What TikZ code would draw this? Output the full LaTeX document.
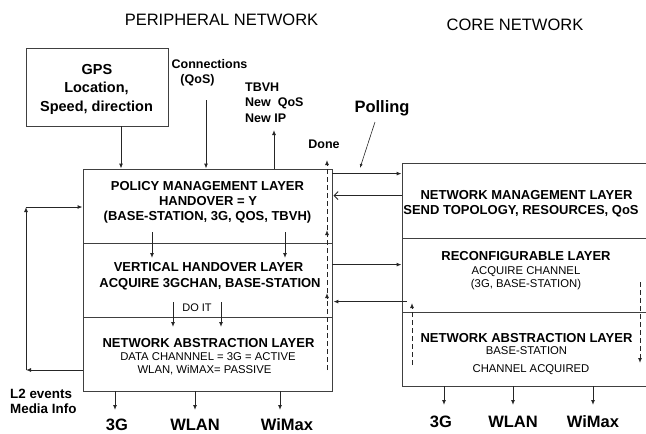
\documentclass[tikz,border=0pt]{standalone}
\usepackage{fontspec}
\setmainfont{Liberation Sans}
\usetikzlibrary{arrows.meta, positioning}

\begin{document}
\begin{tikzpicture}[
  x=1pt, y=-1pt,
  layer/.style={
    draw=black!75,
    line width=0.8pt,
    minimum width=249pt,
    minimum height=74pt,
    inner sep=0pt
  },
  corelayer/.style={
    layer,
    minimum width=262pt
  },
  title/.style={font=\fontsize{16.5}{19}\selectfont, anchor=base, inner sep=0pt},
  head/.style={font=\bfseries\fontsize{13}{15}\selectfont, anchor=base, inner sep=0pt},
  sub/.style={font=\fontsize{11.3}{13}\selectfont, anchor=base, inner sep=0pt},
  tag/.style={font=\bfseries\fontsize{12.5}{14}\selectfont, anchor=base, inner sep=0pt},
  big/.style={font=\bfseries\fontsize{16.5}{19}\selectfont, anchor=base, inner sep=0pt},
  arr/.style={
    draw=black!85,
    line width=1pt,
    -{Latex[length=5pt,width=4pt]}
  },
  barb/.style={
    draw=black!85,
    line width=1pt,
    -{Straight Barb[length=4pt,width=8pt]}
  },
  dasharr/.style={arr, dash pattern=on 5pt off 3pt}
]
\clip (0,0) rectangle (646,434);

% Titles
\node[title] (tperiph) at (221.5,25) {PERIPHERAL NETWORK};
\node[title] (tcore) at (515,30) {CORE NETWORK};

% -------------------------------------------------------------------
% Peripheral network
% -------------------------------------------------------------------
\node[draw=black!75, line width=0.8pt, minimum width=142pt, minimum height=78pt,
  inner sep=0pt] (gps) at (97,87) {};
\node[big, font=\bfseries\fontsize{14.5}{17}\selectfont] (gps1) at (97,74) {GPS};
\node[big, font=\bfseries\fontsize{14.5}{17}\selectfont] (gps2) at (96.5,92) {Location,};
\node[big, font=\bfseries\fontsize{14.5}{17}\selectfont] (gps3) at (96.5,111) {Speed, direction};

\node[tag] (conn1) at (209.5,68) {Connections};
\node[tag] (conn2) at (197.5,83) {(QoS)};

\node[tag, anchor=base west] (tbvh1) at (245,91) {TBVH};
\node[tag, anchor=base west] (tbvh2) at (245,106) {New\ \ QoS};
\node[tag, anchor=base west] (tbvh3) at (245,122) {New IP};

\node[tag] (done) at (324,148) {Done};
\node[big] (polling) at (382,112) {Polling};

\node[layer] (policy) at (207.5,206) {};
\node[layer] (vertical) at (207.5,280) {};
\node[layer] (lnal) at (207.5,354) {};

\node[head] (pol1) at (207.5,190) {POLICY MANAGEMENT LAYER};
\node[head] (pol2) at (208,205) {HANDOVER = Y};
\node[head] (pol3) at (207.5,220) {(BASE-STATION, 3G, QOS, TBVH)};

\node[head] (ver1) at (208.5,271) {VERTICAL HANDOVER LAYER};
\node[head] (ver2) at (210,287) {ACQUIRE 3GCHAN, BASE-STATION};
\node[sub, font=\fontsize{11}{13}\selectfont] (doit) at (197,311) {DO IT};

\node[head] (lnal1) at (208.5,347) {NETWORK ABSTRACTION LAYER};
\node[sub] (lnal2) at (208,360) {DATA CHANNNEL = 3G = ACTIVE};
\node[sub] (lnal3) at (204.5,373) {WLAN, WiMAX= PASSIVE};

\node[tag, font=\bfseries\fontsize{13.4}{15}\selectfont, anchor=base west] (l2a) at (10,398) {L2 events};
\node[tag, font=\bfseries\fontsize{13.4}{15}\selectfont, anchor=base west] (l2b) at (10,413) {Media Info};

\node[big] (l3g) at (117,430) {3G};
\node[big] (lwlan) at (195,430) {WLAN};
\node[big] (lwimax) at (287,430) {WiMax};

% -------------------------------------------------------------------
% Core network
% -------------------------------------------------------------------
\node[corelayer, minimum height=75pt] (nml) at (533,200.5) {};
\node[corelayer] (reconf) at (533,275) {};
\node[corelayer] (rnal) at (533,349) {};

\node[head] (nml1) at (526.5,199) {NETWORK MANAGEMENT LAYER};
\node[head] (nml2) at (521,214) {SEND TOPOLOGY, RESOURCES, QoS};

\node[head] (rec1) at (526,260) {RECONFIGURABLE LAYER};
\node[sub] (rec2) at (526,274) {ACQUIRE CHANNEL};
\node[sub] (rec3) at (526,287) {(3G, BASE-STATION)};

\node[head] (rnal1) at (526.5,342) {NETWORK ABSTRACTION LAYER};
\node[sub] (rnal2) at (526.5,354) {BASE-STATION};
\node[sub] (rnal3) at (531,372) {CHANNEL ACQUIRED};

\node[big] (r3g) at (441,427) {3G};
\node[big] (rwlan) at (513,427) {WLAN};
\node[big] (rwimax) at (593,427) {WiMax};

% -------------------------------------------------------------------
% Arrows into and out of the policy layer
% -------------------------------------------------------------------
\coordinate (connin) at (206,100);
\coordinate (tbvhout) at (274,130);
\draw[arr] ([xshift=24pt]gps.south) -- ([xshift=24pt]gps.south |- policy.north);
\draw[arr] (connin) -- (connin |- policy.north);
\draw[arr] (tbvhout |- policy.north) -- (tbvhout);

\coordinate (pol0) at (375,122);
\coordinate (polend) at (360,168);
\draw[arr, line width=0.6pt, -{Latex[length=4pt,width=3pt]}] (pol0) -- (polend);

% between the layers
\coordinate (h1) at (152,232);
\coordinate (h1e) at (152,258);
\coordinate (h2) at (285,232);
\coordinate (h2e) at (285,258);
\coordinate (g1) at (173,302);
\coordinate (g1e) at (173,327);
\coordinate (g2) at (221,302);
\coordinate (g2e) at (221,327);
\draw[arr] (h1) -- (h1e);
\draw[arr] (h2) -- (h2e);
\draw[arr] (g1) -- (g1e);
\draw[arr] (g2) -- (g2e);

% dashed feedback on the left side
\coordinate (d0) at (327,370);
\coordinate (d1) at (327,293);
\coordinate (d2) at (327,230);
\coordinate (d3) at (327,160);
\draw[dasharr] (d0) -- (d1);
\draw[dasharr] (d1) -- (d2);
\draw[dasharr] (d2) -- (d3);

% L2 events loop
\coordinate (l1) at (26,370);
\coordinate (l2) at (26,207);
\draw[arr] (l1 -| lnal.west) -- (l1);
\draw[arr] (l1) -- (l2);
\draw[arr] (l2) -- (l2 -| policy.west);

% peripheral <-> core
\coordinate (p1) at ([yshift=-5pt]policy.north east);
\coordinate (p2) at ([yshift=-27pt]policy.north east);
\coordinate (p3) at ([yshift=-22pt]vertical.north east);
\coordinate (p4) at ([yshift=-59pt]vertical.north east);
\draw[arr] (p1) -- (p1 -| nml.west);
\draw[barb] (p2 -| nml.west) -- ([xshift=1pt]p2);
\draw[arr] (p3) -- (p3 -| reconf.west);
\draw[arr] ([xshift=5pt]p4 -| reconf.west) -- ([xshift=1pt]p4);

% dashed lines in the core
\coordinate (e0) at (412,365);
\coordinate (e1) at (412,303);
\coordinate (f0) at (640,282);
\coordinate (f1) at (640,363);
\draw[dasharr] (e0) -- (e1);
\draw[dasharr] (f0) -- (f1);

% outputs
\coordinate (o1) at (115,410);
\coordinate (o2) at (195,410);
\coordinate (o3) at (280,410);
\coordinate (c1) at (444,405);
\coordinate (c2) at (513,405);
\coordinate (c3) at (593,405);
\draw[arr] (o1 |- lnal.south) -- (o1);
\draw[arr] (o2 |- lnal.south) -- (o2);
\draw[arr] (o3 |- lnal.south) -- (o3);
\draw[arr] (c1 |- rnal.south) -- (c1);
\draw[arr] (c2 |- rnal.south) -- (c2);
\draw[arr] (c3 |- rnal.south) -- (c3);

\end{tikzpicture}
\end{document}
